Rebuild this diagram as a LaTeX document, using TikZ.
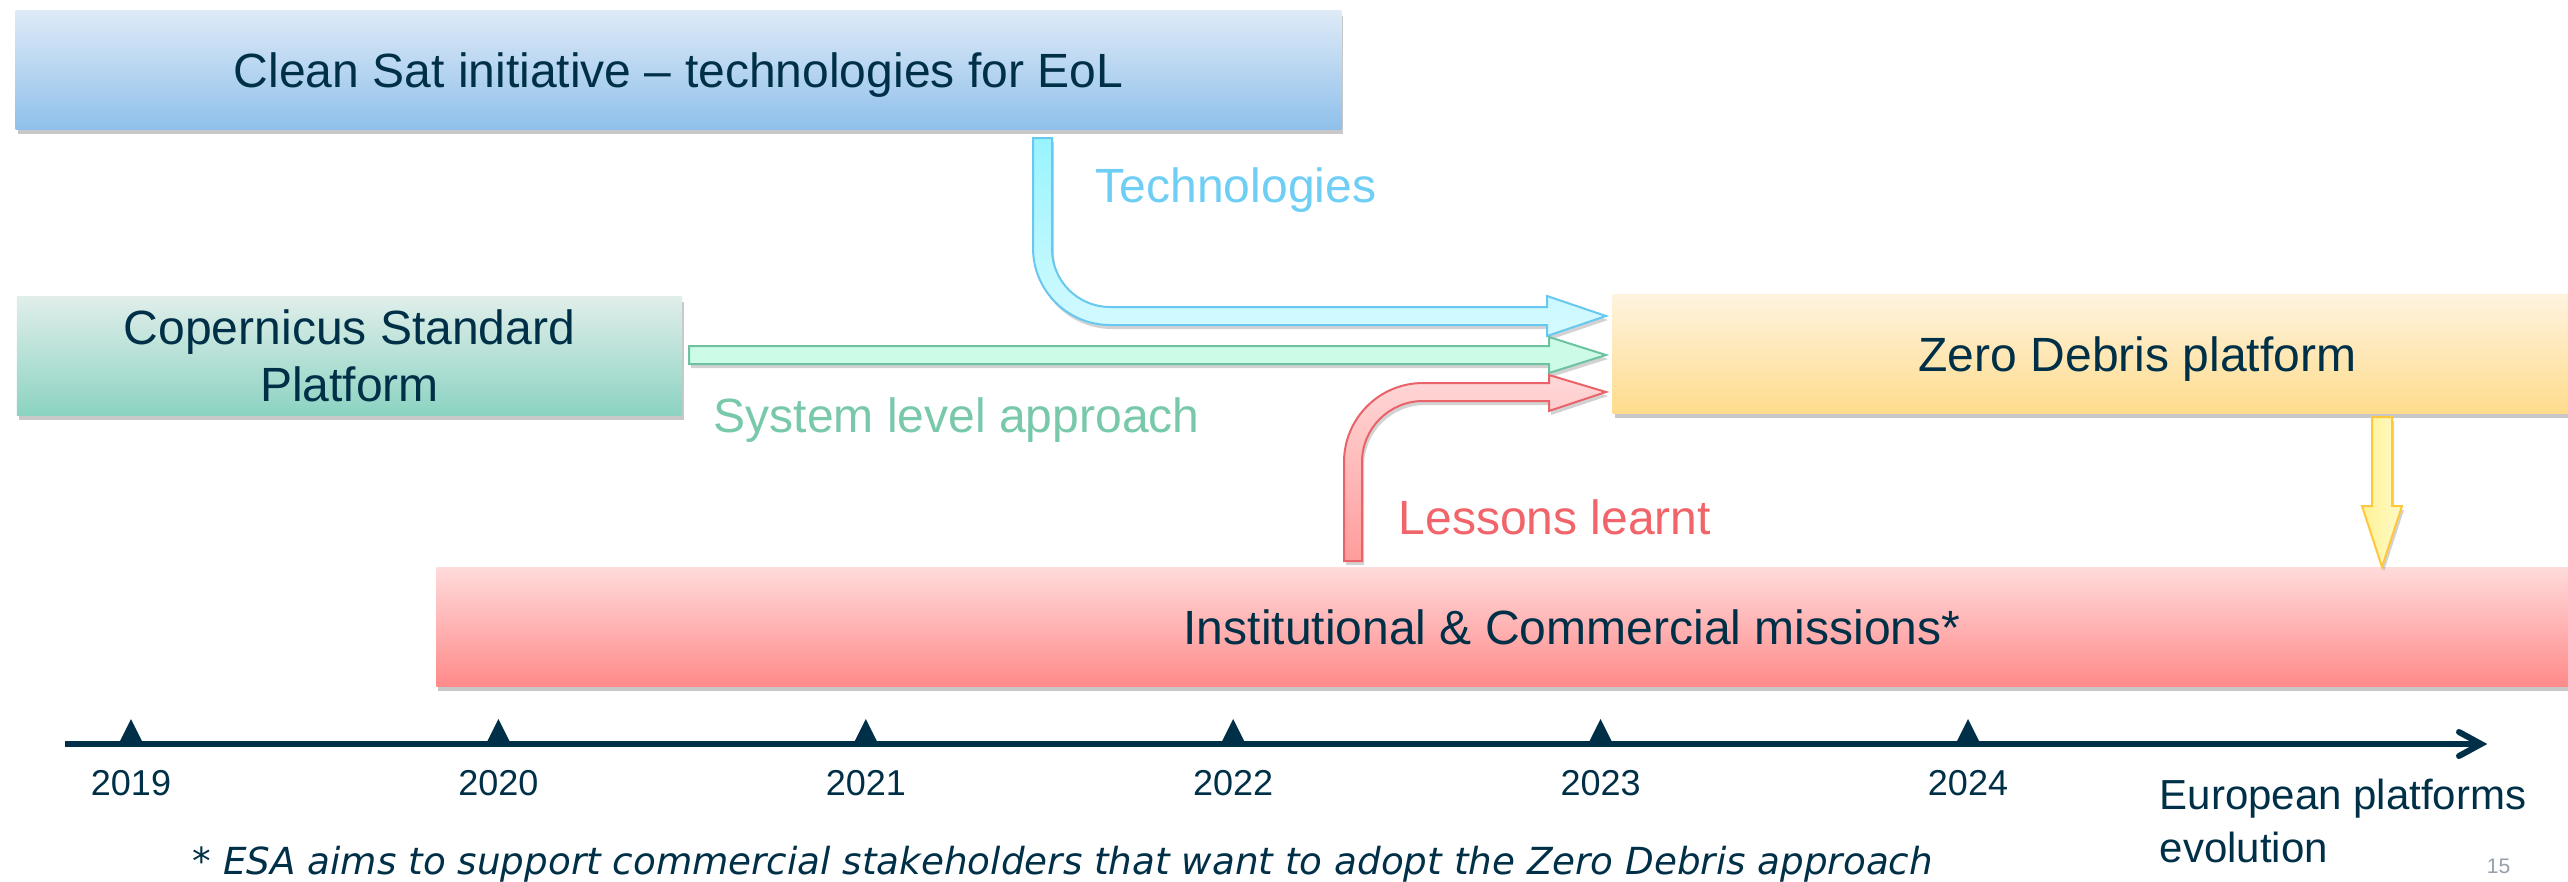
\documentclass[tikz,border=0pt]{standalone}
\usepackage{fontspec}
\setmainfont{Liberation Sans}
\newfontfamily\notefont{DejaVu Sans}
\usetikzlibrary{shadows}
\definecolor{navy}{RGB}{0,48,71}
\definecolor{cleanTop}{RGB}{222,234,247}
\definecolor{cleanBot}{RGB}{143,192,235}
\definecolor{copTop}{RGB}{224,238,234}
\definecolor{copBot}{RGB}{140,211,194}
\definecolor{zeroTop}{RGB}{255,243,222}
\definecolor{zeroBot}{RGB}{254,220,140}
\definecolor{instTop}{RGB}{255,218,218}
\definecolor{instBot}{RGB}{255,138,138}
\definecolor{cyanTop}{RGB}{152,244,255}
\definecolor{cyanBot}{RGB}{214,250,255}
\definecolor{cyanLine}{RGB}{104,200,240}
\definecolor{cyanText}{RGB}{110,206,245}
\definecolor{greenFill}{RGB}{204,252,232}
\definecolor{greenLine}{RGB}{110,194,160}
\definecolor{greenText}{RGB}{120,200,170}
\definecolor{redTop}{RGB}{255,216,216}
\definecolor{redBot}{RGB}{255,156,156}
\definecolor{redLine}{RGB}{232,100,106}
\definecolor{redText}{RGB}{240,100,106}
\definecolor{yelL}{RGB}{255,242,150}
\definecolor{yelR}{RGB}{255,250,200}
\definecolor{yelLine}{RGB}{255,200,60}
\definecolor{pageGray}{RGB}{150,160,170}
\begin{document}
\begin{tikzpicture}[x=0.01cm,y=-0.01cm,
  box/.style={inner sep=0pt, text=navy, font=\fontsize{13.66pt}{16.2pt}\selectfont, align=center, minimum height=1.18cm,
    drop shadow={shadow xshift=0.02cm, shadow yshift=-0.05cm, opacity=0.3, fill=black!70}},
  oneline/.style={text height=0.34cm, text depth=0pt},
  blockarrow/.style={line width=0.02cm, line join=miter,
    drop shadow={shadow xshift=0.02cm, shadow yshift=-0.04cm, opacity=0.25, fill=black!70}},
  lbl/.style={anchor=base west, inner sep=0pt, font=\fontsize{13.66pt}{16pt}\selectfont},
  year/.style={anchor=base, inner sep=0pt, text=navy, font=\fontsize{10.24pt}{12pt}\selectfont},
  tick/.style={fill=navy}
]
\useasboundingbox (0,0) rectangle (2568,881);
\fill[white] (0,0) rectangle (2568,881);

% boxes
\node[box, oneline, minimum width=13.25cm, top color=cleanTop, bottom color=cleanBot] (clean) at (678.5,70) {Clean Sat initiative – technologies for EoL};
\node[box, minimum width=6.65cm, top color=copTop, bottom color=copBot] (coper) at (349.5,356) {Copernicus Standard\\Platform};
\node[box, oneline, minimum width=10.49cm, top color=zeroTop, bottom color=zeroBot] (zero) at (2137.5,354) {Zero Debris platform};
\node[box, oneline, minimum width=22.7cm, top color=instTop, bottom color=instBot] (inst) at (1572,627) {Institutional \& Commercial missions*};

% block arrows
\path[blockarrow, draw=cyanLine, top color=cyanTop, bottom color=cyanBot]
  (1033,138) -- (1033,248) .. controls (1033,290.5) and (1067.5,325) .. (1110,325)
  -- (1547,325) -- (1547,336) -- (1606,316) -- (1547,296) -- (1547,307) -- (1110,307)
  .. controls (1078,307) and (1052,281) .. (1052,249) -- (1052,138) -- cycle;
\path[blockarrow, draw=greenLine, fill=greenFill]
  (689,346) -- (1549,346) -- (1549,337) -- (1606,355) -- (1549,373) -- (1549,364) -- (689,364) -- cycle;
\path[blockarrow, draw=redLine, top color=redTop, bottom color=redBot]
  (1344,561) -- (1344,462) .. controls (1344,418.4) and (1379.4,383) .. (1423,383)
  -- (1549,383) -- (1549,375) -- (1606,392) -- (1549,411) -- (1549,401) -- (1423,401)
  .. controls (1389.3,401) and (1362,428.3) .. (1362,462) -- (1362,561) -- cycle;
\path[blockarrow, draw=yelLine, left color=yelL, right color=yelR]
  (2372,417) -- (2392,417) -- (2392,506) -- (2402,506) -- (2382,567) -- (2362,506) -- (2372,506) -- cycle;

% labels
\node[lbl, text=cyanText] (tech) at (1095,202) {Technologies};
\node[lbl, text=greenText] (sys) at (713,432) {System level approach};
\node[lbl, text=redText] (less) at (1398,534) {Lessons learnt};

% timeline
\coordinate (tlS) at (65,744);
\coordinate (tlE) at (2481,744);
\draw[navy, line width=0.06cm] (tlS) -- (2476,744);
\draw[navy, line width=0.06cm, line cap=round, line join=miter] (2459,732) -- (tlE) -- (2459,756);
\foreach \i/\yr in {0/2019,1/2020,2/2021,3/2022,4/2023,5/2024}{
  \pgfmathsetmacro\xx{131+367.4*\i}
  \fill[tick] ({\xx-11.5},742) -- (\xx,719) -- ({\xx+11.5},742) -- cycle;
  \node[year] (y\yr) at (\xx,795) {\yr};
}
\node[anchor=base west, inner sep=0pt, align=left, text=navy, font=\fontsize{11.95pt}{14.8pt}\selectfont] (epe) at (2159,862) {European platforms\\evolution};
\node[anchor=base east, inner sep=0pt, text=pageGray, font=\fontsize{6pt}{7pt}\selectfont] (pg) at (2511,873) {15};
\node[anchor=base west, inner sep=0pt, text=navy, font=\notefont\itshape\fontsize{10.6pt}{12pt}\selectfont] (note) at (192,874) {* ESA aims to support commercial stakeholders that want to adopt the Zero Debris approach};
\end{tikzpicture}
\end{document}
